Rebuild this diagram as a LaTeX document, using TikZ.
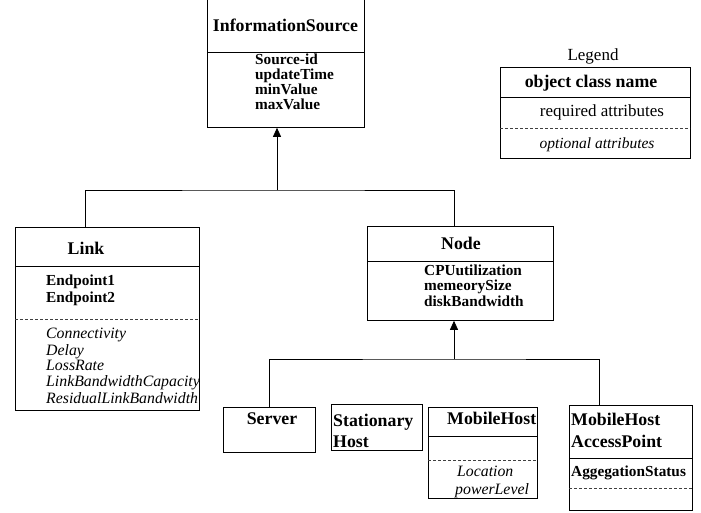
\documentclass[tikz,border=0pt]{standalone}
\usepackage{fontspec}
\setmainfont{Liberation Serif}
\usetikzlibrary{arrows.meta}
\begin{document}
\begin{tikzpicture}[x=1pt,y=-1pt,
  box/.style={draw, line width=0.8pt, inner sep=0, anchor=north west},
  ttl/.style={font=\fontsize{17.8}{18}\selectfont\bfseries, inner sep=0, text height=12pt, text depth=4pt},
  att/.style={font=\fontsize{15.3}{15}\selectfont\bfseries, inner sep=0, anchor=west, text height=9.5pt, text depth=3pt},
  opt/.style={font=\fontsize{15.8}{15}\selectfont\itshape, inner sep=0, anchor=west, text height=9.5pt, text depth=3pt},
  reg/.style={font=\fontsize{17}{17}\selectfont, inner sep=0, text height=11pt, text depth=4pt},
  sep/.style={line width=0.8pt},
  dsep/.style={line width=0.8pt, dash pattern=on 3pt off 2pt, draw=black!75},
  conn/.style={line width=0.8pt},
  arr/.style={line width=0.8pt, -{Triangle[width=8pt,length=9pt]}}
]
\useasboundingbox (0,0) rectangle (701,512);
\fill[white] (0,0) rectangle (701,512);

% ---- InformationSource
\node[box, minimum width=157, minimum height=128] (is) at (207,-1) {};
\draw[sep] (207,52) -- (364,52);
\node[ttl] (ist) at (285.5,27) {InformationSource};
\node[att] (is1) at (255,61.5) {Source-id};
\node[att] (is2) at (255,76.5) {updateTime};
\node[att] (is3) at (255,91.5) {minValue};
\node[att] (is4) at (255,106.5) {maxValue};

% ---- Legend
\node[reg] (lg) at (593,57) {Legend};
\node[box, minimum width=190, minimum height=91] (leg) at (500,67) {};
\draw[sep] (500,97) -- (690,97);
\draw[dsep] (500,128) -- (690,128);
\node[ttl] (lg1) at (591,83) {object class name};
\node[reg] (lg2) at (602,113) {required attributes};
\node[reg, font=\fontsize{15.5}{16}\selectfont\itshape] (lg3) at (597,145) {optional attributes};

% ---- Link
\node[box, minimum width=184, minimum height=183] (link) at (15,227) {};
\draw[sep] (15,266) -- (199,266);
\draw[dsep] (15,319) -- (199,319);
\node[ttl] (lkt) at (86,250) {Link};
\node[att] (lk1) at (46,282) {Endpoint1};
\node[att] (lk2) at (46,299) {Endpoint2};
\begin{scope}
\clip (15,320) rectangle (198.5,409);
\node[opt] (lk3) at (46,335) {Connectivity};
\node[opt] (lk4) at (46,352) {Delay};
\node[opt] (lk5) at (46,367.5) {LossRate};
\node[opt] (lk6) at (46,383.5) {LinkBandwidthCapacity};
\node[opt] (lk7) at (46,400) {ResidualLinkBandwidth};
\end{scope}

% ---- Node
\node[box, minimum width=186, minimum height=94] (node) at (367,226) {};
\draw[sep] (367,261) -- (553,261);
\node[ttl] (ndt) at (461,245) {Node};
\node[att] (nd1) at (424,272) {CPUutilization};
\node[att] (nd2) at (424,287.5) {memeorySize};
\node[att] (nd3) at (424,303) {diskBandwidth};

% ---- Server
\node[box, minimum width=92, minimum height=45] (srv) at (223,407) {};
\node[ttl] (srvt) at (272,420) {Server};

% ---- Stationary Host
\node[box, minimum width=91, minimum height=46] (sth) at (331,404) {};
\node[ttl, anchor=west] (sth1) at (333,422) {Stationary};
\node[ttl, anchor=west] (sth2) at (333,443) {Host};

% ---- MobileHost
\node[box, minimum width=109, minimum height=91] (mh) at (428,407) {};
\draw[sep] (428,436) -- (537,436);
\draw[dsep] (428,460) -- (537,460);
\begin{scope}
\clip (428,407) rectangle (536.6,436);
\node[ttl, anchor=west] (mht) at (447,420) {MobileHost};
\end{scope}
\node[opt] (mh1) at (457,473) {Location};
\node[opt] (mh2) at (455,491) {powerLevel};

% ---- MobileHost AccessPoint
\node[box, minimum width=123, minimum height=105] (ap) at (569,405) {};
\draw[sep] (569,458) -- (692,458);
\draw[dsep] (569,488) -- (692,488);
\node[ttl, anchor=west] (ap1) at (571,421) {MobileHost};
\node[ttl, anchor=west] (ap2) at (571,443) {AccessPoint};
\node[att] (ap3) at (571,473) {AggegationStatus};

% ---- connectors (first level)
\coordinate (lt) at (85,227);
\coordinate (nt) at (454,226);
\coordinate (bar1) at (277,190);
\draw[conn] (lt) |- (bar1) -| (nt);
\draw[arr] (bar1) -- (bar1 |- is.south);

% ---- connectors (second level)
\coordinate (st) at (269,407);
\coordinate (at) at (599,405);
\coordinate (bar2) at (454,359);
\draw[conn] (st) |- (bar2) -| (at);
\draw[arr] (bar2) -- (bar2 |- node.south);
\end{tikzpicture}
\end{document}
